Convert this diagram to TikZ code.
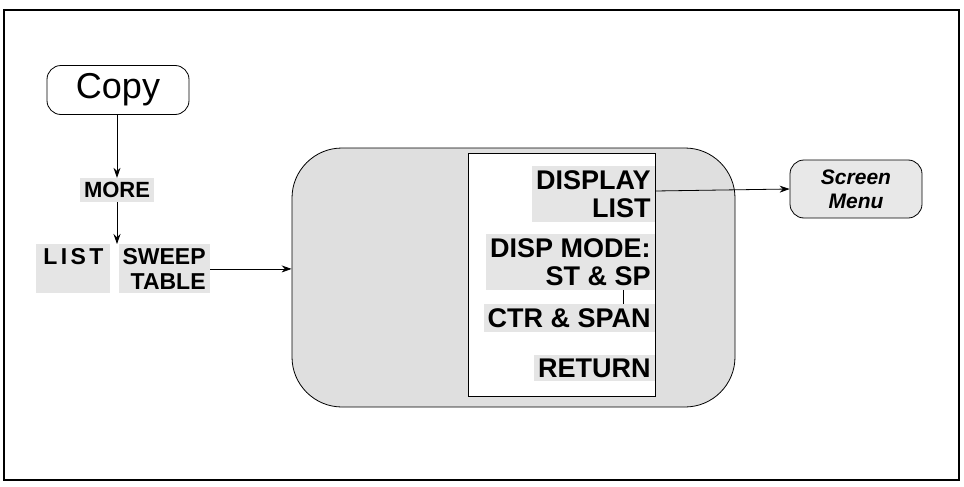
\documentclass[tikz,border=0pt]{standalone}
\usepackage{fontspec}
\setmainfont{Liberation Sans}
\usetikzlibrary{arrows.meta,positioning}

\tikzset{
  keylabel/.style={fill=gray!20, inner sep=2pt, font=\fontsize{11.5}{12.5}\selectfont\bfseries},
  panellabel/.style={keylabel, align=right, anchor=east, font=\fontsize{13.5}{14}\selectfont\bfseries},
  menubox/.style={draw, rounded corners=7pt, fill=gray!18},
  link/.style={-{Stealth[length=5pt,width=3.5pt]}, thin}
}

\begin{document}
\begin{tikzpicture}[x=0.5pt, y=-0.5pt]
  \useasboundingbox (0,0) rectangle (964,487);
  % Frame
  \draw[semithick] (4,10) rectangle (959,480);

  % Hardkey
  \node[draw, rounded corners=7pt, fill=white, minimum width=71pt, minimum height=24.5pt,
        font=\fontsize{18}{20}\selectfont] (copy) at (118,90) {Copy};

  % Softkey path
  \node[keylabel, font=\fontsize{11}{12.5}\selectfont\bfseries] (more) at (117,190) {MORE};
  \node[keylabel, align=center, text width=33pt, anchor=north west] (list) at (36,244)
    {\addfontfeatures{LetterSpace=15}LIST\\\mbox{}};
  \node[keylabel, align=right, anchor=north east] (sweep) at (210,244) {SWEEP\\TABLE};

  \draw[link] (copy.south -| more.north) -- (more.north);
  \draw[link] (more.south) -- (more.south |- sweep.north);

  % Menu panel
  \node[draw, rounded corners=25pt, fill=gray!25, minimum width=221.5pt, minimum height=129.5pt]
    (panel) at (513.5,277.5) {};
  \node[draw, fill=white, minimum width=93.5pt, minimum height=121.5pt] (keys) at (561.5,274.5) {};

  \node[panellabel] (display) at (655,194) {DISPLAY\\LIST};
  \node[panellabel] (dispmode) at (655,262) {DISP MODE:\\ST \& SP};
  \node[panellabel] (ctrspan) at (655,318) {CTR \& SPAN};
  \node[panellabel] (return) at (655,368) {RETURN};

  \draw[thin] ([xshift=-16pt]dispmode.south east) -- ([xshift=-16pt]dispmode.south east |- ctrspan.north);

  % Result
  \node[menubox, minimum width=66pt, minimum height=29pt, align=center,
        font=\fontsize{10.5}{12}\selectfont\bfseries\itshape] (screen) at (856,189) {Screen\\Menu};

  \draw[link] (sweep.east) -- (sweep.east -| panel.west);
  \draw[link] ([yshift=-1pt]display.north east |- screen.west) -- (screen.west);
\end{tikzpicture}
\end{document}
